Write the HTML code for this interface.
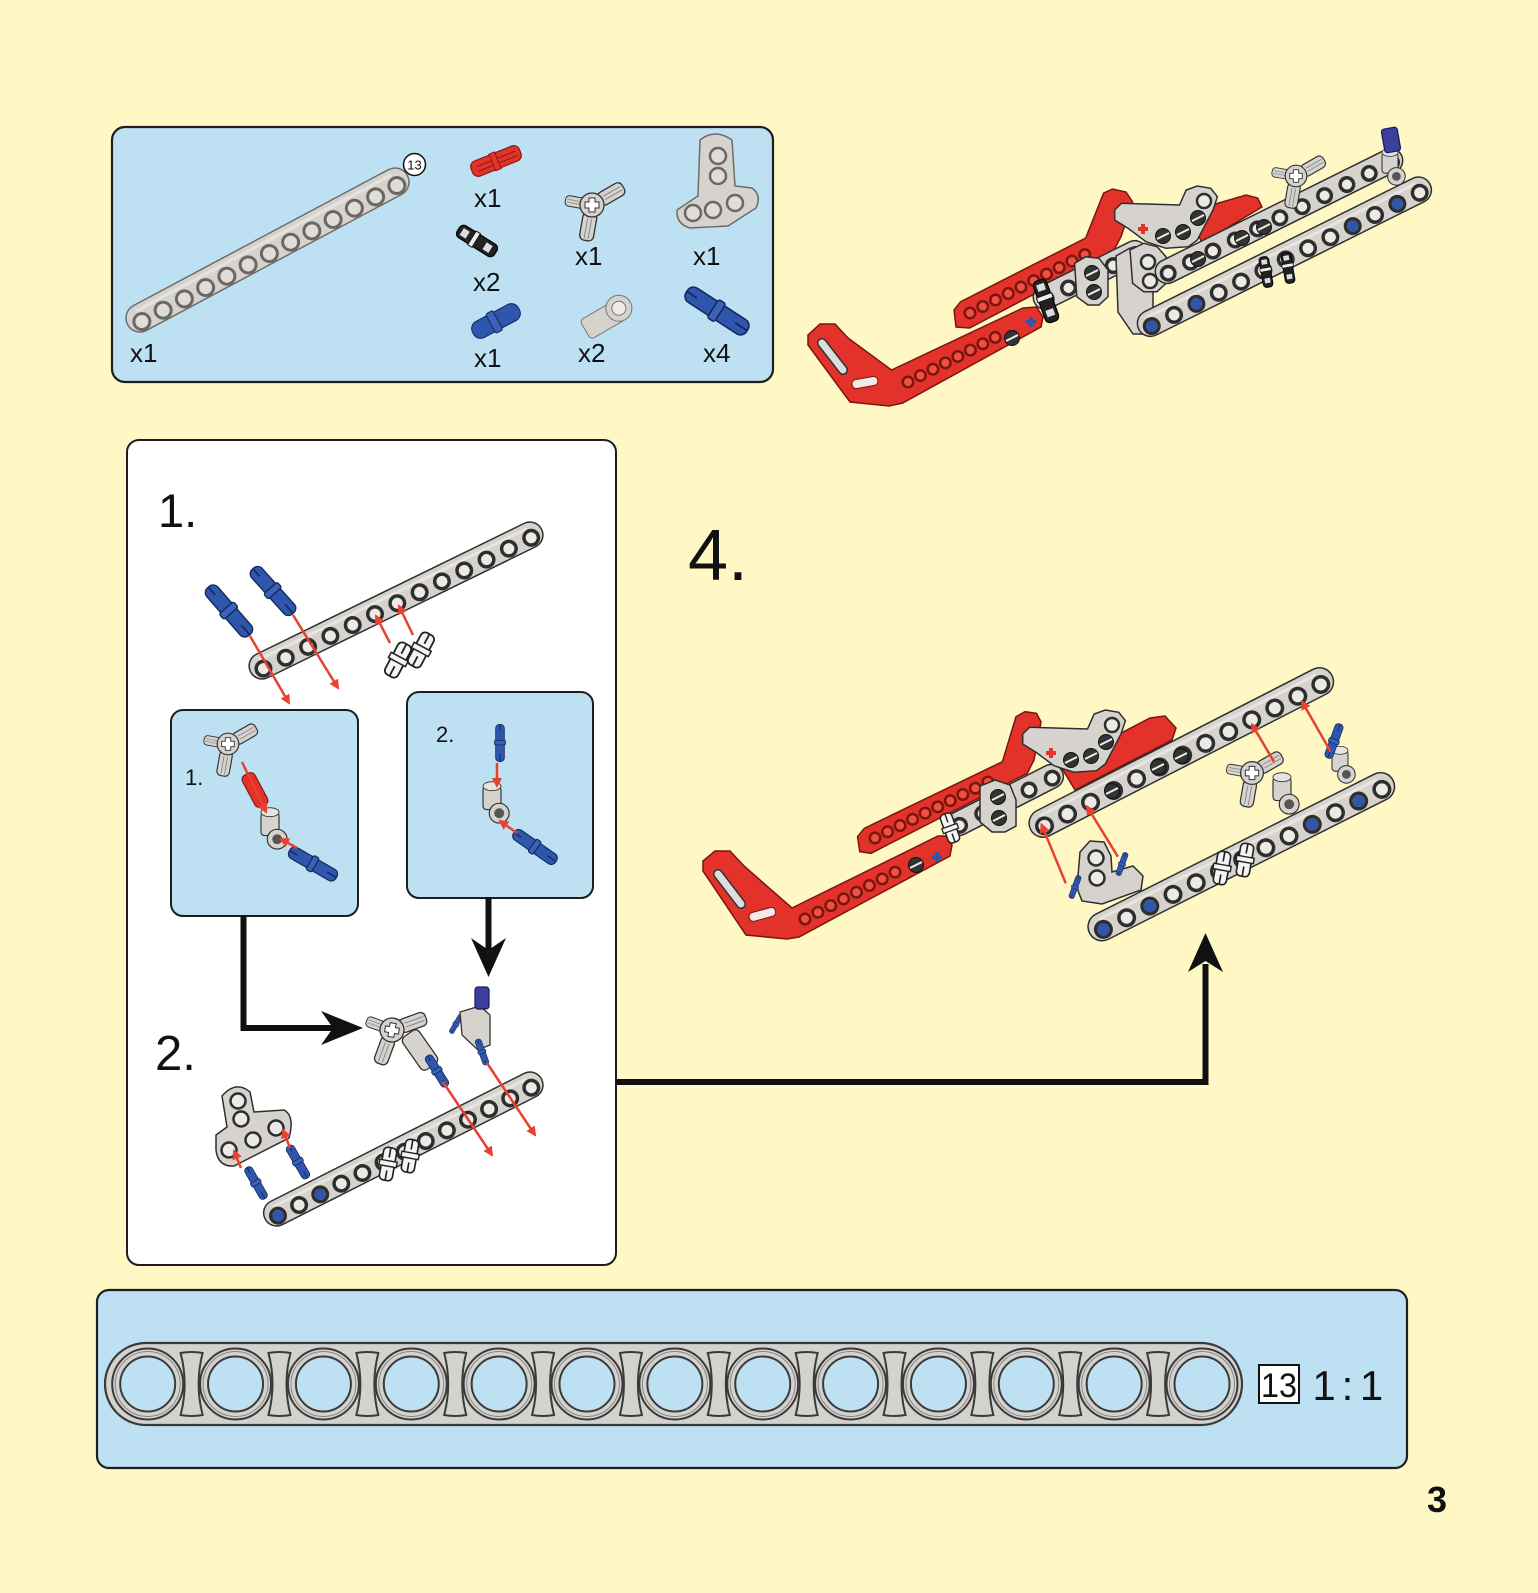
<!DOCTYPE html>
<html><head><meta charset="utf-8"><style>
html,body{margin:0;padding:0;background:#fff8c4;}
svg{display:block}
text{font-family:"Liberation Sans",sans-serif;fill:#111}
</style></head><body>
<svg width="1538" height="1593" viewBox="0 0 1538 1593" xmlns="http://www.w3.org/2000/svg" xmlns:xlink="http://www.w3.org/1999/xlink">
<defs>
<marker id="ra" viewBox="0 0 10 10" refX="8" refY="5" markerWidth="4" markerHeight="4" orient="auto"><path d="M0,0 L10,5 L0,10 z" fill="#e8412f"/></marker>
<g id="bh"><circle r="35.5" fill="#d4d2cf" stroke="#3a3a3a" stroke-width="2"/><circle r="32.5" fill="none" stroke="#8a8886" stroke-width="1"/><circle r="27.5" fill="#bde1f3" stroke="#3a3a3a" stroke-width="2"/></g>
<path id="hg" d="M-11,-31 Q0,-33 11,-31 Q3,0 11,31 Q0,33 -11,31 Q-3,0 -11,-31 Z" fill="#d4d2cf" stroke="#3a3a3a" stroke-width="2"/>
<g id="bpin">
 <rect x="-30" y="-7" width="60" height="14" rx="6" fill="#2f56ad" stroke="#12275a" stroke-width="1.3"/>
 <rect x="-4" y="-9" width="7" height="18" rx="2" fill="#3a62b8" stroke="#12275a" stroke-width="1.3"/>
 <line x1="18" y1="0" x2="30" y2="0" stroke="#12275a" stroke-width="1.5"/>
 <line x1="-30" y1="0" x2="-20" y2="0" stroke="#12275a" stroke-width="1.5"/>
</g>
<g id="kpin">
 <rect x="-22" y="-7" width="44" height="14" rx="5" fill="#222" stroke="#000" stroke-width="1.2"/>
 <rect x="-6" y="-8" width="5" height="16" fill="#eee" stroke="#111" stroke-width="1"/>
 <rect x="9" y="-4" width="7" height="8" fill="#ddd"/>
 <rect x="-18" y="-4" width="7" height="8" fill="#ddd"/>
</g>
<g id="wpin">
 <rect x="-15" y="-6" width="30" height="12" rx="4" fill="#f4f4f4" stroke="#222" stroke-width="1.5"/>
 <line x1="-15" y1="0" x2="-6" y2="0" stroke="#222" stroke-width="1.5"/>
 <rect x="-2" y="-8" width="5" height="16" fill="#f4f4f4" stroke="#222" stroke-width="1.3"/>
 <line x1="6" y1="0" x2="15" y2="0" stroke="#222" stroke-width="1.5"/>
</g>
<g id="arm"><rect x="8" y="-7" width="28" height="14" rx="5" fill="#d6d3ce" stroke="#333" stroke-width="1.3"/><line x1="14" y1="-2" x2="34" y2="-2" stroke="#888"/><line x1="14" y1="2" x2="34" y2="2" stroke="#888"/></g>
<g id="conn3">
 <use xlink:href="#arm" transform="rotate(-30)"/>
 <use xlink:href="#arm" transform="rotate(100)"/>
 <use xlink:href="#arm" transform="rotate(190) scale(0.75)"/>
 <circle r="12" fill="#d6d3ce" stroke="#333" stroke-width="1.3"/>
 <path d="M-3,-7 h6 v4 h4 v6 h-4 v4 h-6 v-4 h-4 v-6 h4z" fill="#fff" stroke="#333" stroke-width="1"/>
</g>
<g id="angc">
 <rect x="-10" y="-22" width="20" height="26" rx="4" fill="#d6d3ce" stroke="#333" stroke-width="1.3"/>
 <ellipse cx="0" cy="-22" rx="10" ry="5" fill="#e6e4e0" stroke="#333"/>
 <circle cx="8" cy="8" r="11" fill="#d6d3ce" stroke="#333" stroke-width="1.3"/>
 <circle cx="8" cy="8" r="5.5" fill="#555"/>
</g>
<g id="dh"><circle r="7.5" fill="#333" stroke="#111"/><line x1="-6" y1="3" x2="6" y2="-3" stroke="#eee" stroke-width="2"/></g>
</defs>

<rect width="1538" height="1593" fill="#fff8c4"/>

<!-- ============ PARTS PANEL ============ -->
<rect x="112" y="127" width="661" height="255" rx="13" fill="#bde1f3" stroke="#1e1e1e" stroke-width="2.2"/>
<g transform="translate(267.5,250) rotate(-28.07)">
 <rect x="-158.5" y="-14" width="317" height="28" rx="14" fill="#d6d3ce" stroke="#6f6c68" stroke-width="1.5"/>
 <line x1="-144.5" y1="-8" x2="144.5" y2="-8" stroke="#e6e3de" stroke-width="3"/>
 <line x1="-144.5" y1="4" x2="145" y2="4" stroke="#6a6865" stroke-width="19" stroke-linecap="round" stroke-dasharray="0 24.083"/>
 <line x1="-144.5" y1="4" x2="145" y2="4" stroke="#e0ddd8" stroke-width="13" stroke-linecap="round" stroke-dasharray="0 24.083"/>
</g>
<circle cx="414.5" cy="164.5" r="11" fill="#fff" stroke="#111" stroke-width="1.5"/>
<text x="414.5" y="169.5" font-size="13" text-anchor="middle">13</text>

<g transform="translate(496,161) rotate(-22)"><rect x="-26" y="-8" width="52" height="16" rx="6" fill="#e2322a" stroke="#8a1a12" stroke-width="1.2"/><line x1="-20" y1="-2" x2="22" y2="-2" stroke="#8a1a12"/><line x1="-20" y1="3" x2="22" y2="3" stroke="#8a1a12"/><rect x="-4" y="-9" width="6" height="18" fill="#e2322a" stroke="#8a1a12"/></g>
<use xlink:href="#kpin" transform="translate(477,241) rotate(32)"/>
<g transform="translate(496,321) rotate(-28)"><rect x="-26" y="-9" width="52" height="18" rx="8" fill="#2f56ad" stroke="#12275a"/><rect x="-6" y="-11" width="8" height="22" rx="2" fill="#3a62b8" stroke="#12275a"/></g>
<use xlink:href="#conn3" transform="translate(592,205)"/>
<path d="M700,140 Q715,128 732,140 L735,186 L752,188 Q762,195 756,208 L728,226 L690,228 Q676,224 677,210 L698,196 Z" fill="#d6d3ce" stroke="#6f6c68" stroke-width="1.5"/>
<g fill="#e0ddd8" stroke="#6a6865" stroke-width="2.5"><circle cx="718" cy="156" r="8"/><circle cx="718" cy="176" r="8"/><circle cx="693" cy="213" r="8"/><circle cx="713" cy="210" r="8"/><circle cx="735" cy="203" r="8"/></g>
<g transform="translate(606,318) rotate(-30)"><rect x="-24" y="-11" width="40" height="22" rx="4" fill="#d6d3ce" stroke="#777"/><circle cx="16" cy="-2" r="13" fill="#d6d3ce" stroke="#777"/><circle cx="16" cy="-2" r="7" fill="#eeece8" stroke="#777"/></g>
<use xlink:href="#bpin" transform="translate(717,311) rotate(33) scale(1.2)"/>

<g font-size="26">
<text x="130" y="362">x1</text>
<text x="474" y="207">x1</text>
<text x="473" y="291">x2</text>
<text x="474" y="367">x1</text>
<text x="575" y="265">x1</text>
<text x="693" y="265">x1</text>
<text x="578" y="362">x2</text>
<text x="703" y="362">x4</text>
</g>

<!-- ============ TOP RIGHT ASSEMBLY ============ -->
<polygon points="954,310 960.7,301.7 1085.7,238 1103.6,193 1112.5,189 1126,192 1132.6,202 1121,236.7 1112.5,253 969.6,328 956,327" fill="#e2322a" stroke="#7a1510" stroke-width="1.5"/>
<line x1="970" y1="313" x2="1085" y2="254.5" stroke="#7a1510" stroke-width="13" stroke-linecap="round" stroke-dasharray="0 14.3"/>
<line x1="970" y1="313" x2="1085" y2="254.5" stroke="#f05040" stroke-width="8" stroke-linecap="round" stroke-dasharray="0 14.3"/>
<polygon points="1188,212 1246,195 1257.6,198 1262,207 1202,243" fill="#e2322a" stroke="#7a1510" stroke-width="1.5"/>
<polygon points="808,335 820,324 835,324 848,338 891.5,370 1023,308 1036.6,307 1043,317 1041,327 902.7,403 889,406 850,402 808,345" fill="#e2322a" stroke="#7a1510" stroke-width="1.5"/>
<line x1="908" y1="382" x2="1000" y2="335" stroke="#7a1510" stroke-width="13" stroke-linecap="round" stroke-dasharray="0 14"/>
<line x1="908" y1="382" x2="1000" y2="335" stroke="#f05040" stroke-width="8" stroke-linecap="round" stroke-dasharray="0 14"/>
<use xlink:href="#dh" transform="translate(1012,338)"/>
<path d="M1026,322 h10 M1031,317 v10" stroke="#2f56ad" stroke-width="4"/>
<rect x="852" y="378" width="26" height="9" rx="4" fill="#f4e9e4" stroke="#7a1510" transform="rotate(-10 865 383)"/>
<line x1="822" y1="343" x2="843" y2="370" stroke="#333" stroke-width="10" stroke-linecap="round"/>
<line x1="822" y1="343" x2="843" y2="370" stroke="#ddd" stroke-width="7" stroke-linecap="round"/>
<g transform="translate(1090,275) rotate(-26.5)">
 <rect x="-62" y="-12" width="124" height="24" rx="12" fill="#d6d3ce" stroke="#2e2e2e" stroke-width="1.5"/>
 <line x1="-50" y1="2" x2="50.5" y2="2" stroke="#2e2e2e" stroke-width="17" stroke-linecap="round" stroke-dasharray="0 25"/>
 <line x1="-50" y1="2" x2="50.5" y2="2" stroke="#eceae6" stroke-width="10" stroke-linecap="round" stroke-dasharray="0 25"/>
</g>
<use xlink:href="#kpin" transform="translate(1046,301) rotate(70)"/>
<polygon points="1074.6,263.3 1085.7,256.7 1099,258.3 1108,270 1108,296.7 1099,305 1088,305 1076.8,296.7" fill="#d6d3ce" stroke="#2e2e2e" stroke-width="1.5"/>
<use xlink:href="#dh" transform="translate(1092,273)"/><use xlink:href="#dh" transform="translate(1094,292)"/>
<polygon points="1116,256 1130,248 1146,252 1153,268 1153,312 1144,334 1133,334 1118,312" fill="#d6d3ce" stroke="#2e2e2e" stroke-width="1.5"/>
<g id="blift">
<polygon points="1114.7,210 1121.4,203.3 1179.5,205 1186.2,190 1197.3,186 1210.7,188.3 1217.4,196.7 1213,210 1197.3,240 1188.4,246.7 1166,248.3 1146,241.7 1128,228.3 1114.7,220" fill="#d6d3ce" stroke="#2e2e2e" stroke-width="1.5"/>
<use xlink:href="#dh" transform="translate(1163,236)"/><use xlink:href="#dh" transform="translate(1183,232)"/><use xlink:href="#dh" transform="translate(1198,218)"/>
<circle cx="1204" cy="201" r="7" fill="#eceae6" stroke="#2e2e2e" stroke-width="2.5"/>
<path d="M1138,229 h10 M1143,224 v10" stroke="#e2322a" stroke-width="4"/>
</g>
<polygon points="1130,250 1143.75,243.3 1157,246.7 1166,256.7 1166,283.3 1157,291.7 1143.75,291.7 1132.6,283.3" fill="#d6d3ce" stroke="#2e2e2e" stroke-width="1.5"/>
<circle cx="1148" cy="262" r="7" fill="#eceae6" stroke="#2e2e2e" stroke-width="2.5"/><circle cx="1150" cy="281" r="7" fill="#eceae6" stroke="#2e2e2e" stroke-width="2.5"/>
<g transform="translate(1279,216) rotate(-26.4)">
 <rect x="-136.7" y="-12" width="273.4" height="24" rx="12" fill="#d6d3ce" stroke="#2e2e2e" stroke-width="1.5"/>
 <line x1="-124.7" y1="2" x2="125.2" y2="2" stroke="#2e2e2e" stroke-width="17" stroke-linecap="round" stroke-dasharray="0 24.94"/>
 <line x1="-124.7" y1="2" x2="125.2" y2="2" stroke="#eceae6" stroke-width="10" stroke-linecap="round" stroke-dasharray="0 24.94"/>
</g>
<use xlink:href="#dh" transform="translate(1242,238)"/><use xlink:href="#dh" transform="translate(1264,227)"/><use xlink:href="#dh" transform="translate(1198,259)"/>
<g transform="translate(1284.4,256.7) rotate(-26.45)">
 <rect x="-162.65" y="-13" width="325.3" height="26" rx="13" fill="#d6d3ce" stroke="#2e2e2e" stroke-width="1.5"/>
 <line x1="-149.65" y1="-7" x2="149.65" y2="-7" stroke="#e8e5e0" stroke-width="3"/>
 <line x1="-149.65" y1="3" x2="150.15" y2="3" stroke="#2e2e2e" stroke-width="18" stroke-linecap="round" stroke-dasharray="0 24.94"/>
 <line x1="-149.65" y1="3" x2="150.15" y2="3" stroke="#eceae6" stroke-width="11" stroke-linecap="round" stroke-dasharray="0 24.94"/>
</g>
<g fill="#2f56ad"><circle cx="1151.7" cy="326" r="5.5"/><circle cx="1196.4" cy="303.8" r="5.5"/><circle cx="1352.7" cy="226" r="5.5"/><circle cx="1397.3" cy="203.8" r="5.5"/></g>
<use xlink:href="#kpin" transform="translate(1266,272) rotate(80) scale(0.7)"/>
<use xlink:href="#kpin" transform="translate(1288,268) rotate(80) scale(0.7)"/>
<use xlink:href="#conn3" transform="translate(1296,176) scale(0.9)"/>
<use xlink:href="#angc" transform="translate(1390,170) scale(0.8)"/>
<rect x="1383" y="128" width="16" height="24" rx="3" fill="#3d3f9c" stroke="#1a1a55" stroke-width="1.2" transform="rotate(-10 1391 140)"/>

<!-- ============ STEP PANEL ============ -->
<rect x="127" y="440" width="489" height="825" rx="12" fill="#ffffff" stroke="#1e1e1e" stroke-width="2"/>
<text x="158" y="527" font-size="47">1.</text>

<use xlink:href="#bpin" transform="translate(229,611) rotate(49) scale(1.05)"/>
<use xlink:href="#bpin" transform="translate(273,591) rotate(48)"/>
<g transform="translate(396,600.5) rotate(-26.05)">
 <rect x="-162" y="-13" width="324" height="26" rx="13" fill="#d6d3ce" stroke="#2e2e2e" stroke-width="1.5"/>
 <line x1="-149" y1="-7" x2="149" y2="-7" stroke="#e8e5e0" stroke-width="3"/>
 <line x1="-149" y1="3" x2="149.5" y2="3" stroke="#2e2e2e" stroke-width="18" stroke-linecap="round" stroke-dasharray="0 24.833"/>
 <line x1="-149" y1="3" x2="149.5" y2="3" stroke="#eceae6" stroke-width="11" stroke-linecap="round" stroke-dasharray="0 24.833"/>
</g>
<use xlink:href="#wpin" transform="translate(398,660) rotate(-62) scale(1.2)"/>
<use xlink:href="#wpin" transform="translate(421,650) rotate(-62) scale(1.2)"/>
<g stroke="#e8412f" stroke-width="2.5" marker-end="url(#ra)">
<line x1="250" y1="636" x2="289" y2="703"/>
<line x1="293" y1="615" x2="338" y2="688"/>
<line x1="390" y1="643" x2="376" y2="616"/>
<line x1="413" y1="635" x2="399" y2="606"/>
</g>

<rect x="171" y="710" width="187" height="206" rx="12" fill="#bde1f3" stroke="#1e1e1e" stroke-width="2"/>
<text x="185" y="785" font-size="22">1.</text>
<use xlink:href="#conn3" transform="translate(228,744) scale(0.9)"/>
<g transform="translate(255,790) rotate(62)"><rect x="-18" y="-7" width="36" height="14" rx="5" fill="#e2322a" stroke="#8a1a12" stroke-width="1.2"/><line x1="-14" y1="0" x2="16" y2="0" stroke="#8a1a12"/></g>
<use xlink:href="#angc" transform="translate(270,832) scale(0.9)"/>
<use xlink:href="#bpin" transform="translate(313,864) rotate(30) scale(0.9)"/>
<g stroke="#e8412f" stroke-width="2.5" marker-end="url(#ra)">
<line x1="242" y1="762" x2="266" y2="812"/>
<line x1="297" y1="848" x2="281" y2="839"/>
</g>

<rect x="407" y="692" width="186" height="206" rx="12" fill="#bde1f3" stroke="#1e1e1e" stroke-width="2"/>
<text x="436" y="742" font-size="22">2.</text>
<use xlink:href="#bpin" transform="translate(500,743) rotate(90) scale(0.62)"/>
<use xlink:href="#angc" transform="translate(492,806) scale(0.9)"/>
<use xlink:href="#bpin" transform="translate(535,847) rotate(35) scale(0.85)"/>
<g stroke="#e8412f" stroke-width="2.5" marker-end="url(#ra)">
<line x1="497" y1="763" x2="497" y2="786"/>
<line x1="517" y1="833" x2="500" y2="821"/>
</g>

<!-- black arrows in panel -->
<path d="M243.5,916 V1028 H336" fill="none" stroke="#111" stroke-width="6"/>
<polygon points="363,1028 321,1011 333,1028 321,1045" fill="#111"/>
<path d="M488.5,897 V952" fill="none" stroke="#111" stroke-width="6"/>
<polygon points="488.5,977 471,938 488.5,950 506,938" fill="#111"/>

<text x="155" y="1070" font-size="49">2.</text>

<!-- step 2 assembly -->
<use xlink:href="#conn3" transform="translate(392,1030) rotate(10)"/>
<g transform="translate(420,1050) rotate(55)"><rect x="-20" y="-10" width="40" height="20" rx="5" fill="#d6d3ce" stroke="#333" stroke-width="1.3"/></g>
<use xlink:href="#bpin" transform="translate(437,1071) rotate(58) scale(0.6)"/>
<use xlink:href="#bpin" transform="translate(456,1024) rotate(-60) scale(0.35)"/>
<polygon points="460,1012 480,1006 490,1015 490,1045 478,1050 462,1035" fill="#d6d3ce" stroke="#333" stroke-width="1.3"/>
<rect x="475" y="987" width="14" height="22" rx="3" fill="#3d3f9c" stroke="#1a1a55" stroke-width="1.2"/>
<use xlink:href="#bpin" transform="translate(482,1052) rotate(70) scale(0.45)"/>

<path d="M222,1096 Q236,1080 250,1092 L254,1112 L284,1110 Q295,1116 289,1138 L234,1166 Q218,1167 216,1150 L216,1135 L227,1127 Z" fill="#d6d3ce" stroke="#2e2e2e" stroke-width="1.5"/>
<g fill="#eceae6" stroke="#2e2e2e" stroke-width="2.5"><circle cx="238" cy="1101" r="7.5"/><circle cx="241" cy="1119" r="7.5"/><circle cx="229" cy="1150" r="7.5"/><circle cx="253" cy="1140" r="7.5"/><circle cx="276" cy="1128" r="7.5"/></g>
<use xlink:href="#bpin" transform="translate(256,1183) rotate(60) scale(0.6)"/>
<use xlink:href="#bpin" transform="translate(298,1162) rotate(60) scale(0.62)"/>
<g transform="translate(403.3,1149) rotate(-26.8)">
 <rect x="-154.9" y="-13" width="309.8" height="26" rx="13" fill="#d6d3ce" stroke="#2e2e2e" stroke-width="1.5"/>
 <line x1="-141.9" y1="-7" x2="141.9" y2="-7" stroke="#e8e5e0" stroke-width="3"/>
 <line x1="-141.9" y1="3" x2="142.4" y2="3" stroke="#2e2e2e" stroke-width="18" stroke-linecap="round" stroke-dasharray="0 23.65"/>
 <line x1="-141.9" y1="3" x2="142.4" y2="3" stroke="#eceae6" stroke-width="11" stroke-linecap="round" stroke-dasharray="0 23.65"/>
</g>
<g fill="#2f56ad"><circle cx="278" cy="1215.7" r="5.5"/><circle cx="320.2" cy="1194.4" r="5.5"/></g>
<use xlink:href="#wpin" transform="translate(388,1164) rotate(-80) scale(1.1)"/>
<use xlink:href="#wpin" transform="translate(410,1156) rotate(-80) scale(1.1)"/>
<g stroke="#e8412f" stroke-width="2.5" marker-end="url(#ra)">
<line x1="241" y1="1168" x2="234" y2="1151"/>
<line x1="290" y1="1148" x2="283" y2="1130"/>
<line x1="443" y1="1082" x2="492" y2="1155"/>
<line x1="487" y1="1063" x2="535" y2="1135"/>
</g>

<!-- big connector arrow -->
<path d="M616,1082 H1205.5 V964" fill="none" stroke="#111" stroke-width="6"/>
<polygon points="1205.5,933 1188,972 1205.5,961 1223,972" fill="#111"/>

<text x="688" y="580" font-size="72">4.</text>

<!-- ============ STEP 4 ASSEMBLY ============ -->
<polygon points="857.5,836.7 864.3,828.3 1002.4,761.7 1016,716.7 1025,711.7 1036.4,713.3 1041,721.7 1034,760 1027.3,773.3 871,853.3 859.8,851.7" fill="#e2322a" stroke="#7a1510" stroke-width="1.5"/>
<line x1="875" y1="838" x2="1000" y2="776" stroke="#7a1510" stroke-width="13" stroke-linecap="round" stroke-dasharray="0 14"/>
<line x1="875" y1="838" x2="1000" y2="776" stroke="#f05040" stroke-width="8" stroke-linecap="round" stroke-dasharray="0 14"/>
<polygon points="1060,765 1150,718 1165,716 1176,728 1172,740 1075,790" fill="#e2322a" stroke="#7a1510" stroke-width="1.5"/>
<polygon points="703,861 715,851 730,851 744,866 792,908 938,836 947,836 952,845 950,856 799,937 787,939 746,935 703,871" fill="#e2322a" stroke="#7a1510" stroke-width="1.5"/>
<line x1="805" y1="919" x2="905" y2="867" stroke="#7a1510" stroke-width="13" stroke-linecap="round" stroke-dasharray="0 14.5"/>
<line x1="805" y1="919" x2="905" y2="867" stroke="#f05040" stroke-width="8" stroke-linecap="round" stroke-dasharray="0 14.5"/>
<use xlink:href="#dh" transform="translate(916,865)"/>
<path d="M932,857 h10 M937,852 v10" stroke="#2f56ad" stroke-width="4"/>
<rect x="749" y="910" width="27" height="9" rx="4" fill="#f4e9e4" stroke="#7a1510" transform="rotate(-15 762 915)"/>
<line x1="718" y1="874" x2="741" y2="904" stroke="#333" stroke-width="10" stroke-linecap="round"/>
<line x1="718" y1="874" x2="741" y2="904" stroke="#ddd" stroke-width="7" stroke-linecap="round"/>
<g transform="translate(1005,800) rotate(-27)">
 <rect x="-64" y="-12" width="128" height="24" rx="12" fill="#d6d3ce" stroke="#2e2e2e" stroke-width="1.5"/>
 <line x1="-52" y1="2" x2="52.5" y2="2" stroke="#2e2e2e" stroke-width="17" stroke-linecap="round" stroke-dasharray="0 26"/>
 <line x1="-52" y1="2" x2="52.5" y2="2" stroke="#eceae6" stroke-width="10" stroke-linecap="round" stroke-dasharray="0 26"/>
</g>
<use xlink:href="#wpin" transform="translate(950,828) rotate(70)"/>
<polygon points="980,786 995,780 1010,785 1016,800 1016,826 1005,832 992,832 980,822" fill="#d6d3ce" stroke="#2e2e2e" stroke-width="1.5"/>
<use xlink:href="#dh" transform="translate(998,797)"/><use xlink:href="#dh" transform="translate(999,818)"/>
<use xlink:href="#blift" transform="translate(-92,524)"/>
<g transform="translate(1181.3,752.5) rotate(-27.1)">
 <rect x="-169.2" y="-14" width="338.4" height="28" rx="14" fill="#d6d3ce" stroke="#2e2e2e" stroke-width="1.5"/>
 <line x1="-155.2" y1="-8" x2="155.2" y2="-8" stroke="#e8e5e0" stroke-width="3"/>
 <line x1="-155.2" y1="3" x2="155.7" y2="3" stroke="#2e2e2e" stroke-width="19" stroke-linecap="round" stroke-dasharray="0 25.867"/>
 <line x1="-155.2" y1="3" x2="155.7" y2="3" stroke="#eceae6" stroke-width="12" stroke-linecap="round" stroke-dasharray="0 25.867"/>
</g>
<use xlink:href="#dh" transform="translate(1158,767)"/><use xlink:href="#dh" transform="translate(1181,756)"/><use xlink:href="#dh" transform="translate(1112,791)"/>
<use xlink:href="#conn3" transform="translate(1252,773) scale(0.95)"/>
<use xlink:href="#angc" transform="translate(1282,797) scale(0.9)"/>
<use xlink:href="#angc" transform="translate(1340,768) scale(0.8)"/>
<use xlink:href="#bpin" transform="translate(1334,741) rotate(-70) scale(0.6)"/>
<path d="M1080,852 L1090,841 L1104,842 L1111,856 L1112,872 L1133,866 L1143,876 L1141,890 L1102,904 L1082,901 L1077,888 Z" fill="#d6d3ce" stroke="#2e2e2e" stroke-width="1.5"/>
<g fill="#eceae6" stroke="#2e2e2e" stroke-width="2.5"><circle cx="1096" cy="858" r="7.5"/><circle cx="1097" cy="878" r="7.5"/></g>
<use xlink:href="#bpin" transform="translate(1075,887) rotate(-70) scale(0.4)"/>
<use xlink:href="#bpin" transform="translate(1122,864) rotate(-70) scale(0.4)"/>
<g transform="translate(1241.3,856.7) rotate(-26.7)">
 <rect x="-169.85" y="-14" width="339.7" height="28" rx="14" fill="#d6d3ce" stroke="#2e2e2e" stroke-width="1.5"/>
 <line x1="-155.85" y1="-8" x2="155.85" y2="-8" stroke="#e8e5e0" stroke-width="3"/>
 <line x1="-155.85" y1="3" x2="156.35" y2="3" stroke="#2e2e2e" stroke-width="19" stroke-linecap="round" stroke-dasharray="0 25.975"/>
 <line x1="-155.85" y1="3" x2="156.35" y2="3" stroke="#eceae6" stroke-width="12" stroke-linecap="round" stroke-dasharray="0 25.975"/>
</g>
<g fill="#2f56ad"><circle cx="1103.4" cy="929.4" r="6"/><circle cx="1149.8" cy="906.1" r="6"/><circle cx="1312.3" cy="824.4" r="6"/><circle cx="1358.7" cy="801" r="6"/></g>
<use xlink:href="#wpin" transform="translate(1222,868) rotate(-80) scale(1.1)"/>
<use xlink:href="#wpin" transform="translate(1245,860) rotate(-80) scale(1.1)"/>
<g stroke="#e8412f" stroke-width="2.5" marker-end="url(#ra)">
<line x1="1065.8" y1="883.3" x2="1041.5" y2="824.5"/>
<line x1="1117.9" y1="856.7" x2="1087" y2="806.5"/>
<line x1="1274" y1="761.7" x2="1252" y2="724.5"/>
<line x1="1330.7" y1="751.7" x2="1302" y2="701.5"/>
</g>

<!-- ============ BOTTOM 1:1 PANEL ============ -->
<rect x="97" y="1290" width="1310" height="178" rx="12" fill="#bde1f3" stroke="#1e1e1e" stroke-width="2.2"/>
<rect x="105" y="1343" width="1137" height="82" rx="41" fill="#d4d2cf" stroke="#3a3a3a" stroke-width="2.2"/>
<g>
<use xlink:href="#bh" x="147.7" y="1384"/><use xlink:href="#bh" x="235.56" y="1384"/><use xlink:href="#bh" x="323.42" y="1384"/><use xlink:href="#bh" x="411.28" y="1384"/><use xlink:href="#bh" x="499.14" y="1384"/><use xlink:href="#bh" x="587" y="1384"/><use xlink:href="#bh" x="674.86" y="1384"/><use xlink:href="#bh" x="762.72" y="1384"/><use xlink:href="#bh" x="850.58" y="1384"/><use xlink:href="#bh" x="938.44" y="1384"/><use xlink:href="#bh" x="1026.3" y="1384"/><use xlink:href="#bh" x="1114.16" y="1384"/><use xlink:href="#bh" x="1202.02" y="1384"/>
<use xlink:href="#hg" x="191.63" y="1384"/><use xlink:href="#hg" x="279.49" y="1384"/><use xlink:href="#hg" x="367.35" y="1384"/><use xlink:href="#hg" x="455.21" y="1384"/><use xlink:href="#hg" x="543.07" y="1384"/><use xlink:href="#hg" x="630.93" y="1384"/><use xlink:href="#hg" x="718.79" y="1384"/><use xlink:href="#hg" x="806.65" y="1384"/><use xlink:href="#hg" x="894.51" y="1384"/><use xlink:href="#hg" x="982.37" y="1384"/><use xlink:href="#hg" x="1070.23" y="1384"/><use xlink:href="#hg" x="1158.09" y="1384"/>
</g>
<rect x="1259" y="1365" width="40" height="38" fill="#fff" stroke="#111" stroke-width="2"/>
<text x="1279" y="1397" font-size="34" text-anchor="middle" textLength="36" lengthAdjust="spacingAndGlyphs">13</text>
<g font-size="42" text-anchor="middle">
<text x="1324" y="1400">1</text>
<text x="1347.5" y="1400">:</text>
<text x="1371.5" y="1400">1</text>
</g>

<text x="1437" y="1512" font-size="36" font-weight="bold" text-anchor="middle">3</text>
</svg>
</body></html>
